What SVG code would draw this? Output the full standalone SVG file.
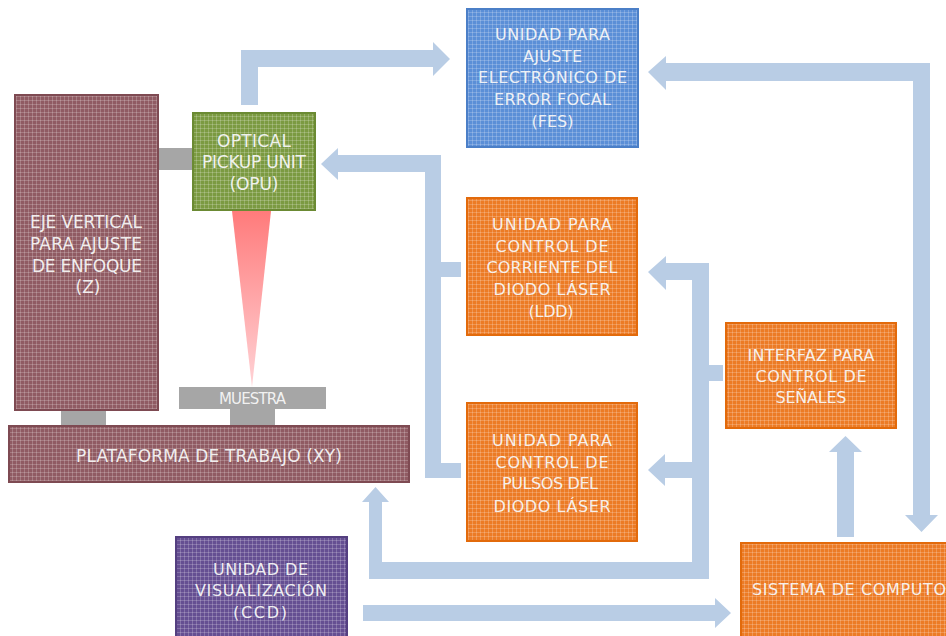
<svg xmlns="http://www.w3.org/2000/svg" width="946" height="636" viewBox="0 0 946 636">
  <defs>
    <!-- fine grid texture laid over the box colours -->
    <pattern id="tex" width="4" height="4" patternUnits="userSpaceOnUse">
      <rect width="4" height="1" fill="#ffffff" fill-opacity="0.2"/>
      <rect width="1" height="4" fill="#ffffff" fill-opacity="0.2"/>
    </pattern>
    <linearGradient id="beam" x1="0" y1="0" x2="0" y2="1">
      <stop offset="0" stop-color="#ff7b7b"/>
      <stop offset="1" stop-color="#ffd3d6"/>
    </linearGradient>
    <style>
      .box { stroke-width: 2; }
      .tex { fill: url(#tex); }
      .blue { fill: #5b8fd7; stroke: #4b7fc7; }
      .green { fill: #7b9a41; stroke: #6b8a33; }
      .maroon { fill: #905b63; stroke: #7e4a52; }
      .purple { fill: #654f92; stroke: #543f80; }
      .orange { fill: #ec7b25; stroke: #e26a0b; }
      .gray { fill: #a6a6a6; }
      .flow { fill: #b9cde5; }
      text { font-family: "DejaVu Sans", "Liberation Sans", sans-serif; fill: #f7f7f7; fill-opacity: 0.95; text-anchor: middle; }
      .t15 { font-size: 15px; }
      .t16 { font-size: 16px; }
      .t17 { font-size: 17px; }
    </style>
  </defs>

  <rect width="946" height="636" fill="#ffffff"/>

  <!-- connectors -->
  <g id="connectors">
    <!-- OPU to FES unit -->
    <polygon class="flow" points="241,105 241,50 433,50 433,42 450,59 433,76 433,67 258,67 258,105"/>
    <!-- computer system to FES unit -->
    <polygon class="flow" points="648,72 666,56 666,63 930,63 930,515 938,515 921.5,532 905,515 913,515 913,81 666,81 666,90"/>
    <!-- LDD and pulse units back to OPU -->
    <polygon class="flow" points="321,164 338,148 338,155 441,155 441,262 461,262 461,277 441,277 441,463 461,463 461,478 425,478 425,172 338,172 338,180"/>
    <!-- signal interface to LDD, pulse unit and XY stage -->
    <polygon class="flow" points="648,272 666,256 666,263 709,263 709,365 723,365 723,381 709,381 709,579 369,579 369,502 362,502 375.5,487 389,502 382,502 382,562 692,562 692,478 665,478 665,486 648,470 665,454 665,462 692,462 692,280 666,280 666,290"/>
    <!-- CCD to computer system -->
    <polygon class="flow" points="363,605 715,605 715,598 731,613 715,628 715,621 363,621"/>
    <!-- computer system to signal interface -->
    <polygon class="flow" points="837,537 837,452 829,452 845.5,436 862,452 854,452 854,537"/>
  </g>

  <!-- mechanical links -->
  <g id="links">
    <rect class="gray" x="159" y="148" width="33" height="22"/>
    <rect class="gray" x="61" y="409" width="45" height="17"/>
    <rect class="gray" x="230" y="408" width="45" height="18"/>
  </g>

  <g id="eje">
    <rect class="box maroon" x="15" y="95" width="143" height="315"/>
    <rect class="tex" x="16" y="96" width="141" height="313"/>
    <text class="t17" x="86" y="228" textLength="112">EJE VERTICAL</text>
    <text class="t17" x="86" y="250" textLength="112">PARA AJUSTE</text>
    <text class="t17" x="87" y="272" textLength="110">DE ENFOQUE</text>
    <text class="t17" x="88" y="293">(Z)</text>
  </g>

  <g id="opu">
    <rect class="box green" x="193" y="113" width="122" height="97"/>
    <rect class="tex" x="194" y="114" width="120" height="95"/>
    <text class="t17" x="254" y="147" textLength="74">OPTICAL</text>
    <text class="t17" x="254" y="168" textLength="104">PICKUP UNIT</text>
    <text class="t17" x="254" y="190" textLength="49">(OPU)</text>
  </g>

  <g id="beam-cone">
    <polygon points="232,211 271,211 252,387" fill="url(#beam)"/>
  </g>

  <g id="muestra">
    <rect class="gray" x="179" y="387" width="147" height="22"/>
    <text class="t15" x="252.5" y="404" textLength="67">MUESTRA</text>
  </g>

  <g id="plataforma">
    <rect class="box maroon" x="9" y="426" width="400" height="56"/>
    <rect class="tex" x="10" y="427" width="398" height="54"/>
    <text class="t17" x="209" y="462" textLength="266">PLATAFORMA DE TRABAJO (XY)</text>
  </g>

  <g id="fes">
    <rect class="box blue" x="467" y="9" width="171" height="138"/>
    <rect class="tex" x="468" y="10" width="169" height="136"/>
    <text class="t16" x="552.5" y="40" textLength="115">UNIDAD PARA</text>
    <text class="t16" x="552.5" y="62" textLength="59">AJUSTE</text>
    <text class="t16" x="552.5" y="83" textLength="149">ELECTRÓNICO DE</text>
    <text class="t16" x="552.5" y="105" textLength="117">ERROR FOCAL</text>
    <text class="t16" x="552.5" y="127">(FES)</text>
  </g>

  <g id="ldd">
    <rect class="box orange" x="467" y="198" width="170" height="137"/>
    <rect class="tex" x="468" y="199" width="168" height="135"/>
    <text class="t16" x="552" y="230" textLength="120">UNIDAD PARA</text>
    <text class="t16" x="552" y="252" textLength="113">CONTROL DE</text>
    <text class="t16" x="552" y="273" textLength="131">CORRIENTE DEL</text>
    <text class="t16" x="552" y="295" textLength="117">DIODO LÁSER</text>
    <text class="t16" x="551" y="317" textLength="45">(LDD)</text>
  </g>

  <g id="pulsos">
    <rect class="box orange" x="467" y="403" width="170" height="138"/>
    <rect class="tex" x="468" y="404" width="168" height="136"/>
    <text class="t16" x="552" y="446" textLength="120">UNIDAD PARA</text>
    <text class="t16" x="552" y="468" textLength="113">CONTROL DE</text>
    <text class="t16" x="550" y="489" textLength="96">PULSOS DEL</text>
    <text class="t16" x="552" y="512" textLength="117">DIODO LÁSER</text>
  </g>

  <g id="interfaz">
    <rect class="box orange" x="726" y="323" width="170" height="105"/>
    <rect class="tex" x="727" y="324" width="168" height="103"/>
    <text class="t16" x="811" y="361" textLength="127">INTERFAZ PARA</text>
    <text class="t16" x="811" y="382" textLength="111">CONTROL DE</text>
    <text class="t16" x="811" y="403" textLength="71">SEÑALES</text>
  </g>

  <g id="sistema">
    <rect class="box orange" x="741" y="543" width="210" height="100"/>
    <rect class="tex" x="742" y="544" width="208" height="98"/>
    <text class="t16" x="752" y="595" textLength="194" style="text-anchor:start">SISTEMA DE COMPUTO</text>
  </g>

  <g id="ccd">
    <rect class="box purple" x="176" y="537" width="171" height="105"/>
    <rect class="tex" x="177" y="538" width="169" height="103"/>
    <text class="t16" x="260.5" y="575" textLength="95">UNIDAD DE</text>
    <text class="t16" x="261" y="596" textLength="132">VISUALIZACIÓN</text>
    <text class="t16" x="260" y="618" textLength="54">(CCD)</text>
  </g>
</svg>
